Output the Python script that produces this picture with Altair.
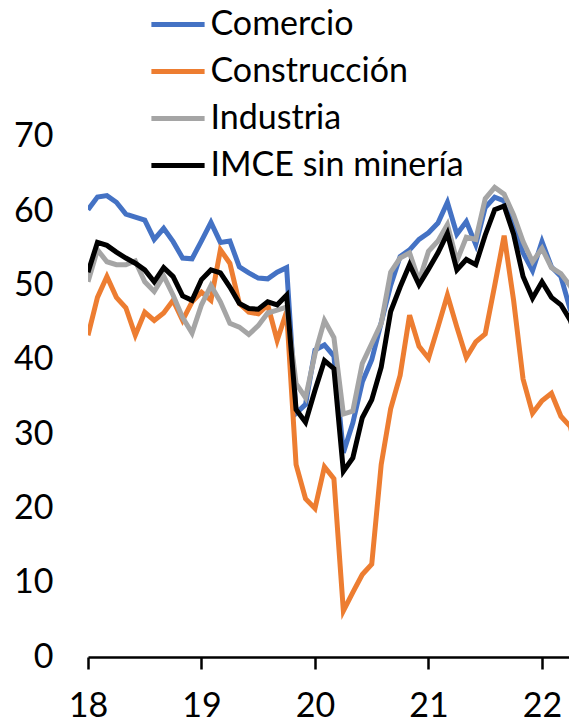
import altair as alt
import pandas as pd

series_names = ["Comercio", "Construcción", "Industria", "IMCE sin minería"]
colors = ["#4472C4", "#ED7D31", "#A5A5A5", "#000000"]
year_ticks = [18, 19, 20, 21, 22]
y_ticks = [0, 10, 20, 30, 40, 50, 60, 70]

# Monthly values, Jan 2018 .. May 2022
comercio = [60.2, 61.9, 62.1, 61.2, 59.6, 59.2, 58.8, 56.2, 57.7, 55.9,
            53.7, 53.6, 56.0, 58.5, 55.8, 56.0, 52.5, 51.7, 51.0, 50.9,
            51.8, 52.4, 32.8, 34.0, 41.3, 42.0, 40.5, 27.5, 31.5, 37.0,
            40.0, 45.0, 50.0, 53.9, 54.8, 56.2, 57.1, 58.4, 61.2, 56.9,
            58.6, 55.5, 60.5, 61.9, 61.4, 58.0, 54.4, 52.0, 55.9, 52.5,
            51.2, 46.7, 45.3]
construccion = [43.3, 48.4, 51.2, 48.4, 47.0, 43.3, 46.4, 45.3, 46.3, 48.0,
                45.3, 47.8, 49.1, 48.0, 54.8, 53.0, 47.6, 46.4, 46.2, 47.4,
                42.6, 46.5, 25.9, 21.3, 20.0, 25.6, 24.0, 6.2, 8.7, 11.1,
                12.5, 25.9, 33.4, 37.9, 46.0, 41.8, 40.2, 44.4, 48.7, 44.4,
                40.3, 42.4, 43.5, 50.0, 56.7, 48.0, 37.4, 32.8, 34.5, 35.5,
                32.4, 31.0, 25.6]
industria = [50.5, 54.8, 53.2, 52.8, 52.8, 53.3, 50.5, 49.2, 51.3, 48.7,
             45.7, 43.6, 47.4, 50.0, 47.8, 44.9, 44.4, 43.4, 44.6, 46.3,
             46.7, 47.1, 36.8, 34.9, 40.8, 45.3, 43.0, 32.7, 33.1, 39.5,
             42.2, 44.9, 51.8, 53.7, 54.4, 50.6, 54.6, 56.0, 58.2, 53.3,
             56.5, 56.2, 61.7, 63.2, 62.3, 59.5, 55.9, 53.2, 55.0, 52.4,
             51.6, 49.9, 47.6]
imce = [51.8, 55.8, 55.4, 54.5, 53.7, 53.0, 52.1, 50.5, 52.4, 51.2,
        48.6, 48.0, 50.8, 52.1, 51.7, 49.8, 47.6, 46.9, 46.8, 47.8,
        47.4, 48.7, 33.3, 31.6, 35.9, 39.9, 38.8, 25.0, 26.8, 32.2,
        34.6, 39.0, 46.5, 49.8, 52.8, 50.1, 52.2, 54.4, 57.0, 52.1,
        53.5, 52.8, 56.8, 60.2, 60.7, 56.9, 51.2, 48.3, 50.5, 48.4,
        47.4, 45.3, 41.5]

rows = []
for k, (name, vals) in enumerate(zip(series_names, [comercio, construccion, industria, imce])):
    for i, v in enumerate(vals):
        rows.append({"serie": name, "t": 18 + i / 12, "valor": v, "k": k})
df = pd.DataFrame(rows)

FONT = "Lato"
FS = 34

chart = (
    alt.Chart(df)
    .mark_line(strokeWidth=5, clip=True)
    .encode(
        x=alt.X(
            "t:Q",
            scale=alt.Scale(domain=[18, 22.238], nice=False, zero=False),
            axis=alt.Axis(
                values=year_ticks, format="d", title=None, grid=False,
                domainColor="black", domainWidth=2.5, tickColor="black",
                tickWidth=2.5, tickSize=12, labelFont=FONT, labelFontSize=FS,
                labelColor="black", labelPadding=20, labelFlush=False,
            ),
        ),
        y=alt.Y(
            "valor:Q",
            scale=alt.Scale(domain=[0, 87.35], nice=False),
            axis=alt.Axis(
                values=y_ticks, title=None, grid=False, domain=False, ticks=False,
                labelFont=FONT, labelFontSize=FS, labelColor="black",
                labelPadding=35, labelFlush=False,
            ),
        ),
        color=alt.Color(
            "serie:N",
            sort=series_names,
            scale=alt.Scale(domain=series_names, range=colors),
            legend=alt.Legend(
                title=None, orient="none", legendX=67.5, legendY=-6,
                symbolType="M-1.33,0H1.33", symbolSize=1600, symbolStrokeWidth=5,
                labelFont=FONT, labelFontSize=FS, labelColor="black",
                labelOffset=10, rowPadding=7, padding=0, labelLimit=500,
            ),
        ),
        detail="k:O",
    )
    .properties(
        width=481, height=649,
        padding={"left": 80, "top": 0, "right": 0, "bottom": 64},
        autosize=alt.AutoSizeParams(type="none"),
    )
    .configure_view(stroke=None)
)

chart.save("out.html", embed_options={"renderer": "svg", "actions": False})
